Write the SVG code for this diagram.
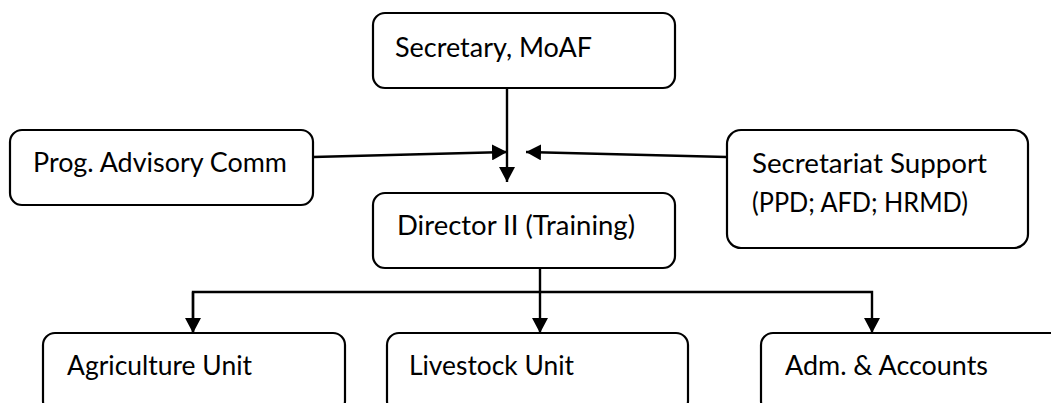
<svg xmlns="http://www.w3.org/2000/svg" width="1051" height="403" viewBox="0 0 1051 403">
<style>
.box{fill:#fff;stroke:#000;stroke-width:2.2}
.t{font-family:"Lato","Liberation Sans",sans-serif;font-size:27px;fill:#000}
.c{stroke:#000;stroke-width:2.4;fill:none}
</style>
<defs>
<marker id="ah" viewBox="0 0 15 16" refX="15" refY="8" markerWidth="15" markerHeight="16" markerUnits="userSpaceOnUse" orient="auto">
<path d="M0,0 L15,8 L0,16 Z" fill="#000"/>
</marker>
</defs>
<rect width="1051" height="403" fill="#fff"/>
<g id="connectors">
<line class="c" x1="507" y1="88" x2="507" y2="182" marker-end="url(#ah)"/>
<line class="c" x1="313" y1="157" x2="507" y2="152" marker-end="url(#ah)"/>
<line class="c" x1="727" y1="157" x2="526" y2="152" marker-end="url(#ah)"/>
<line class="c" x1="540" y1="268" x2="540" y2="333" marker-end="url(#ah)"/>
<polyline class="c" points="193,333 193,292 872,292 872,333" marker-end="url(#ah)"/>
<line class="c" x1="193" y1="292" x2="193" y2="333" marker-end="url(#ah)"/>
</g>
<g id="secretary">
<rect class="box" x="373" y="13" width="302" height="75" rx="12"/>
<text class="t" x="395" y="57" textLength="197" lengthAdjust="spacingAndGlyphs">Secretary, MoAF</text>
</g>
<g id="advisory">
<rect class="box" x="10" y="130" width="303" height="75" rx="12"/>
<text class="t" x="33" y="172" textLength="254" lengthAdjust="spacingAndGlyphs">Prog. Advisory Comm</text>
</g>
<g id="secretariat">
<rect class="box" x="727" y="130" width="301" height="118" rx="14"/>
<text class="t" x="752" y="173" textLength="235" lengthAdjust="spacingAndGlyphs">Secretariat Support</text>
<text class="t" x="752" y="212" textLength="216" lengthAdjust="spacingAndGlyphs">(PPD; AFD; HRMD)</text>
</g>
<g id="director">
<rect class="box" x="373" y="193" width="302" height="75" rx="12"/>
<text class="t" x="397" y="235" textLength="238" lengthAdjust="spacingAndGlyphs">Director II (Training)</text>
</g>
<g id="agriculture">
<rect class="box" x="43" y="333" width="302" height="80" rx="12"/>
<text class="t" x="67" y="375" textLength="185" lengthAdjust="spacingAndGlyphs">Agriculture Unit</text>
</g>
<g id="livestock">
<rect class="box" x="387" y="333" width="301" height="80" rx="12"/>
<text class="t" x="409" y="375" textLength="165" lengthAdjust="spacingAndGlyphs">Livestock Unit</text>
</g>
<g id="adm">
<rect class="box" x="761" y="333" width="320" height="80" rx="12"/>
<text class="t" x="785" y="375" textLength="203" lengthAdjust="spacingAndGlyphs">Adm. &amp; Accounts</text>
</g>
</svg>
